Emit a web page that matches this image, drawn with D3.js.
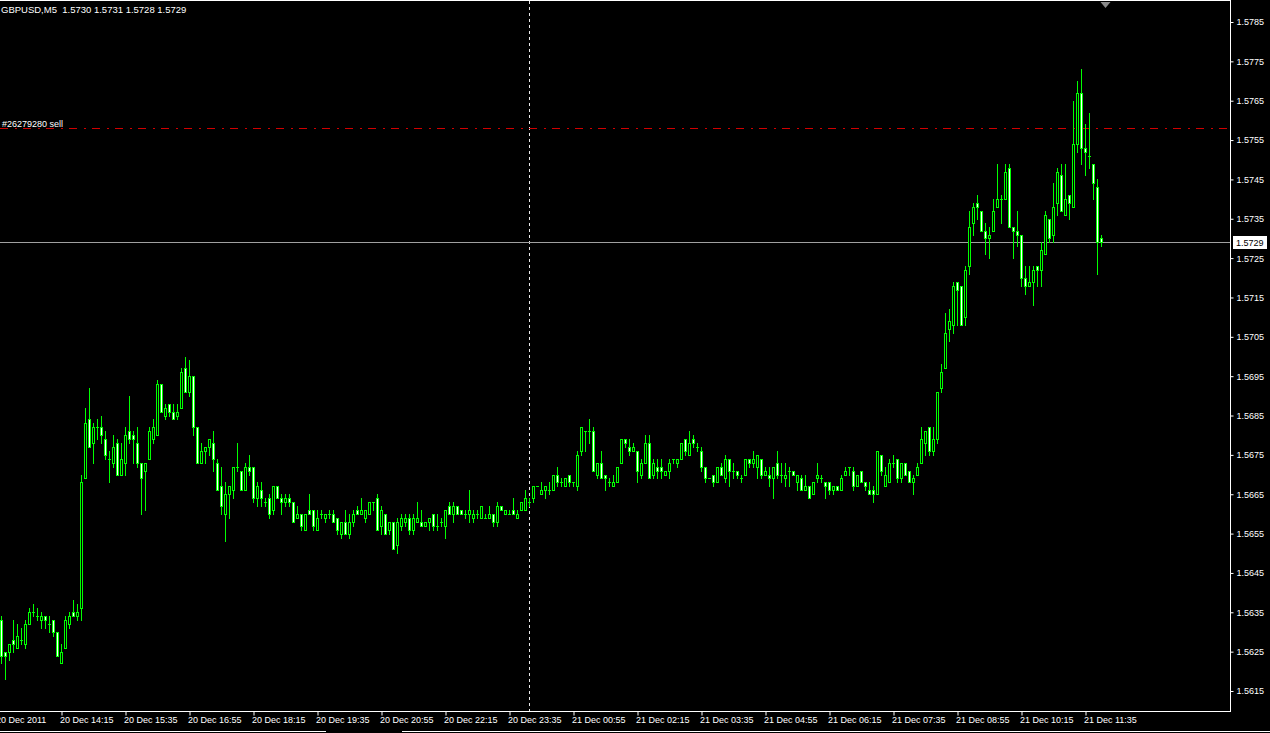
<!DOCTYPE html>
<html><head><meta charset="utf-8">
<script src="https://cdn.jsdelivr.net/npm/d3@7"></script>
<style>
html,body{margin:0;padding:0;background:#000;overflow:hidden}
svg{display:block}
</style></head><body>
<svg id="c" width="1270" height="733"></svg>
<script>
const symbolTitle = "GBPUSD,M5";
const opens = [
1.5633,1.5625,1.5625,1.5628,1.5626,1.5628,1.5627,1.5632,1.5635,1.5634,
1.5633,1.5634,1.5632,1.5633,1.5630,1.5622,1.5626,1.5632,1.5635,1.5634,
1.5636,1.5669,1.5684,1.5678,1.5682,1.5682,1.5679,1.5674,1.5673,1.5678,
1.5670,1.5673,1.5681,1.5680,1.5678,1.5673,1.5671,1.5674,1.5679,1.5680,
1.5693,1.5685,1.5688,1.5686,1.5685,1.5687,1.5697,1.5691,1.5695,1.5682,
1.5673,1.5676,1.5677,1.5678,1.5673,1.5667,1.5660,1.5665,1.5666,1.5672,
1.5671,1.5666,1.5672,1.5672,1.5664,1.5666,1.5663,1.5664,1.5661,1.5667,
1.5664,1.5663,1.5664,1.5663,1.5659,1.5660,1.5656,1.5661,1.5661,1.5656,
1.5660,1.5659,1.5660,1.5660,1.5659,1.5655,1.5658,1.5655,1.5658,1.5661,
1.5660,1.5659,1.5660,1.5663,1.5664,1.5657,1.5660,1.5656,1.5658,1.5652,
1.5657,1.5658,1.5659,1.5656,1.5658,1.5658,1.5657,1.5658,1.5660,1.5657,
1.5658,1.5657,1.5662,1.5660,1.5662,1.5661,1.5660,1.5660,1.5659,1.5660,
1.5659,1.5659,1.5659,1.5660,1.5658,1.5662,1.5660,1.5660,1.5661,1.5659,
1.5661,1.5661,1.5663,1.5664,1.5667,1.5665,1.5666,1.5666,1.5666,1.5670,
1.5668,1.5667,1.5670,1.5668,1.5667,1.5676,1.5681,1.5681,1.5681,1.5670,
1.5673,1.5670,1.5668,1.5667,1.5668,1.5673,1.5679,1.5677,1.5676,1.5676,
1.5670,1.5673,1.5678,1.5670,1.5672,1.5672,1.5670,1.5671,1.5674,1.5673,
1.5674,1.5679,1.5675,1.5679,1.5677,1.5676,1.5672,1.5669,1.5670,1.5668,
1.5672,1.5669,1.5674,1.5671,1.5671,1.5669,1.5670,1.5674,1.5673,1.5672,
1.5674,1.5670,1.5670,1.5669,1.5673,1.5670,1.5669,1.5671,1.5671,1.5668,
1.5669,1.5666,1.5667,1.5665,1.5669,1.5669,1.5668,1.5668,1.5666,1.5667,
1.5666,1.5670,1.5672,1.5671,1.5667,1.5671,1.5668,1.5666,1.5666,1.5665,
1.5675,1.5667,1.5668,1.5673,1.5674,1.5669,1.5673,1.5671,1.5668,1.5670,
1.5673,1.5678,1.5682,1.5676,1.5679,1.5692,1.5697,1.5707,1.5708,1.5719,
1.5718,1.5710,1.5723,1.5734,1.5739,1.5737,1.5732,1.5730,1.5732,1.5738,
1.5740,1.5740,1.5748,1.5733,1.5732,1.5731,1.5720,1.5718,1.5719,1.5723,
1.5722,1.5726,1.5735,1.5731,1.5739,1.5746,1.5736,1.5741,1.5738,1.5754,
1.5767,1.5753,1.5751,1.5749,1.5743,1.5730];
const highs = [
1.5634,1.5625,1.5627,1.5633,1.5632,1.5631,1.5633,1.5636,1.5637,1.5636,
1.5635,1.5634,1.5634,1.5633,1.5630,1.5627,1.5634,1.5635,1.5638,1.5637,
1.5670,1.5687,1.5692,1.5683,1.5684,1.5685,1.5681,1.5676,1.5680,1.5679,
1.5678,1.5682,1.5690,1.5681,1.5682,1.5673,1.5673,1.5682,1.5684,1.5694,
1.5693,1.5688,1.5688,1.5688,1.5688,1.5697,1.5700,1.5699,1.5695,1.5682,
1.5678,1.5677,1.5679,1.5681,1.5674,1.5672,1.5668,1.5667,1.5672,1.5678,
1.5671,1.5673,1.5675,1.5672,1.5668,1.5668,1.5664,1.5665,1.5667,1.5667,
1.5665,1.5665,1.5665,1.5663,1.5662,1.5660,1.5660,1.5665,1.5661,1.5661,
1.5661,1.5660,1.5661,1.5661,1.5659,1.5658,1.5661,1.5660,1.5661,1.5662,
1.5664,1.5661,1.5663,1.5663,1.5665,1.5662,1.5660,1.5658,1.5658,1.5659,
1.5660,1.5660,1.5660,1.5660,1.5663,1.5661,1.5658,1.5659,1.5660,1.5660,
1.5659,1.5661,1.5663,1.5663,1.5662,1.5661,1.5661,1.5666,1.5661,1.5661,
1.5662,1.5660,1.5662,1.5660,1.5663,1.5662,1.5661,1.5661,1.5664,1.5661,
1.5663,1.5666,1.5664,1.5667,1.5667,1.5668,1.5667,1.5668,1.5670,1.5672,
1.5669,1.5669,1.5670,1.5668,1.5676,1.5682,1.5681,1.5684,1.5682,1.5673,
1.5676,1.5670,1.5669,1.5670,1.5672,1.5679,1.5679,1.5679,1.5678,1.5676,
1.5674,1.5680,1.5680,1.5674,1.5674,1.5674,1.5671,1.5674,1.5674,1.5674,
1.5678,1.5679,1.5681,1.5680,1.5678,1.5677,1.5672,1.5669,1.5670,1.5672,
1.5673,1.5675,1.5674,1.5673,1.5671,1.5670,1.5674,1.5674,1.5676,1.5675,
1.5674,1.5672,1.5672,1.5672,1.5676,1.5673,1.5673,1.5672,1.5671,1.5670,
1.5670,1.5670,1.5667,1.5668,1.5673,1.5670,1.5668,1.5668,1.5667,1.5667,
1.5670,1.5672,1.5672,1.5672,1.5670,1.5671,1.5668,1.5668,1.5667,1.5676,
1.5675,1.5672,1.5674,1.5675,1.5674,1.5673,1.5673,1.5671,1.5670,1.5673,
1.5682,1.5681,1.5682,1.5682,1.5691,1.5698,1.5711,1.5712,1.5719,1.5719,
1.5718,1.5723,1.5737,1.5739,1.5741,1.5737,1.5734,1.5733,1.5740,1.5749,
1.5741,1.5749,1.5749,1.5733,1.5737,1.5731,1.5723,1.5723,1.5723,1.5723,
1.5729,1.5737,1.5735,1.5744,1.5748,1.5749,1.5749,1.5741,1.5765,1.5770,
1.5773,1.5759,1.5762,1.5749,1.5745,1.5731];
const lows = [
1.5622,1.5618,1.5623,1.5625,1.5626,1.5627,1.5626,1.5632,1.5634,1.5633,
1.5631,1.5631,1.5630,1.5629,1.5624,1.5622,1.5626,1.5631,1.5634,1.5633,
1.5633,1.5669,1.5677,1.5673,1.5679,1.5678,1.5674,1.5668,1.5672,1.5670,
1.5670,1.5670,1.5678,1.5673,1.5672,1.5660,1.5661,1.5674,1.5678,1.5680,
1.5686,1.5684,1.5685,1.5684,1.5684,1.5687,1.5691,1.5690,1.5680,1.5673,
1.5673,1.5673,1.5675,1.5671,1.5666,1.5660,1.5653,1.5659,1.5664,1.5671,
1.5666,1.5666,1.5670,1.5663,1.5662,1.5662,1.5662,1.5659,1.5660,1.5664,
1.5660,1.5662,1.5662,1.5658,1.5659,1.5656,1.5656,1.5660,1.5656,1.5656,
1.5659,1.5658,1.5659,1.5658,1.5655,1.5654,1.5655,1.5654,1.5657,1.5660,
1.5660,1.5658,1.5660,1.5661,1.5656,1.5655,1.5655,1.5655,1.5651,1.5650,
1.5656,1.5657,1.5655,1.5655,1.5658,1.5657,1.5657,1.5656,1.5656,1.5656,
1.5657,1.5654,1.5660,1.5658,1.5660,1.5660,1.5659,1.5658,1.5658,1.5659,
1.5659,1.5659,1.5659,1.5657,1.5657,1.5661,1.5660,1.5660,1.5660,1.5659,
1.5661,1.5661,1.5662,1.5663,1.5667,1.5665,1.5664,1.5665,1.5666,1.5667,
1.5667,1.5667,1.5667,1.5667,1.5666,1.5675,1.5676,1.5678,1.5671,1.5669,
1.5669,1.5666,1.5667,1.5667,1.5668,1.5673,1.5677,1.5675,1.5676,1.5668,
1.5669,1.5673,1.5669,1.5669,1.5669,1.5669,1.5670,1.5669,1.5673,1.5672,
1.5674,1.5675,1.5675,1.5677,1.5676,1.5671,1.5668,1.5669,1.5667,1.5668,
1.5670,1.5668,1.5667,1.5669,1.5669,1.5668,1.5670,1.5672,1.5672,1.5669,
1.5669,1.5670,1.5667,1.5664,1.5669,1.5668,1.5667,1.5667,1.5670,1.5666,
1.5666,1.5666,1.5664,1.5665,1.5668,1.5668,1.5664,1.5665,1.5665,1.5666,
1.5666,1.5670,1.5670,1.5666,1.5667,1.5668,1.5666,1.5665,1.5663,1.5665,
1.5670,1.5667,1.5668,1.5672,1.5668,1.5668,1.5670,1.5668,1.5665,1.5670,
1.5673,1.5675,1.5675,1.5675,1.5678,1.5691,1.5697,1.5704,1.5706,1.5708,
1.5708,1.5708,1.5721,1.5731,1.5735,1.5732,1.5726,1.5725,1.5732,1.5738,
1.5734,1.5740,1.5733,1.5725,1.5728,1.5718,1.5716,1.5718,1.5713,1.5718,
1.5718,1.5726,1.5729,1.5729,1.5736,1.5737,1.5736,1.5735,1.5738,1.5752,
1.5749,1.5746,1.5748,1.5740,1.5721,1.5728];
const closes = [
1.5624,1.5624,1.5627,1.5627,1.5629,1.5628,1.5632,1.5635,1.5635,1.5634,
1.5634,1.5633,1.5632,1.5630,1.5624,1.5625,1.5633,1.5634,1.5634,1.5635,
1.5668,1.5683,1.5677,1.5682,1.5682,1.5680,1.5675,1.5674,1.5677,1.5670,
1.5674,1.5680,1.5679,1.5679,1.5673,1.5669,1.5673,1.5681,1.5682,1.5693,
1.5686,1.5687,1.5686,1.5684,1.5686,1.5696,1.5691,1.5695,1.5682,1.5673,
1.5676,1.5677,1.5679,1.5674,1.5666,1.5662,1.5665,1.5667,1.5672,1.5672,
1.5666,1.5672,1.5671,1.5664,1.5667,1.5664,1.5663,1.5660,1.5667,1.5664,
1.5663,1.5664,1.5663,1.5658,1.5660,1.5657,1.5660,1.5660,1.5657,1.5659,
1.5660,1.5660,1.5660,1.5658,1.5656,1.5658,1.5655,1.5658,1.5660,1.5660,
1.5661,1.5661,1.5663,1.5663,1.5656,1.5661,1.5655,1.5658,1.5651,1.5658,
1.5659,1.5659,1.5656,1.5659,1.5659,1.5657,1.5658,1.5659,1.5657,1.5657,
1.5658,1.5661,1.5660,1.5662,1.5660,1.5660,1.5660,1.5661,1.5660,1.5660,
1.5662,1.5659,1.5660,1.5658,1.5662,1.5661,1.5661,1.5660,1.5660,1.5660,
1.5663,1.5664,1.5663,1.5667,1.5667,1.5666,1.5667,1.5666,1.5670,1.5668,
1.5668,1.5669,1.5668,1.5668,1.5675,1.5682,1.5681,1.5681,1.5671,1.5673,
1.5669,1.5669,1.5668,1.5668,1.5672,1.5679,1.5678,1.5676,1.5677,1.5671,
1.5673,1.5678,1.5669,1.5673,1.5671,1.5671,1.5671,1.5673,1.5674,1.5674,
1.5678,1.5676,1.5678,1.5678,1.5677,1.5672,1.5669,1.5669,1.5668,1.5672,
1.5670,1.5674,1.5671,1.5671,1.5670,1.5669,1.5674,1.5673,1.5674,1.5675,
1.5670,1.5671,1.5669,1.5672,1.5670,1.5670,1.5670,1.5671,1.5670,1.5670,
1.5666,1.5667,1.5664,1.5668,1.5670,1.5669,1.5667,1.5666,1.5667,1.5666,
1.5669,1.5671,1.5672,1.5667,1.5670,1.5668,1.5667,1.5665,1.5665,1.5676,
1.5671,1.5670,1.5673,1.5673,1.5669,1.5673,1.5670,1.5668,1.5669,1.5672,
1.5679,1.5681,1.5676,1.5679,1.5691,1.5696,1.5706,1.5709,1.5718,1.5717,
1.5708,1.5722,1.5733,1.5738,1.5738,1.5732,1.5730,1.5731,1.5737,1.5740,
1.5740,1.5747,1.5733,1.5732,1.5731,1.5720,1.5718,1.5719,1.5722,1.5722,
1.5727,1.5736,1.5730,1.5738,1.5747,1.5737,1.5740,1.5739,1.5754,1.5767,
1.5753,1.5752,1.5751,1.5744,1.5729,1.5729];

const priceTicks = [1.5785,1.5775,1.5765,1.5755,1.5745,1.5735,1.5725,1.5715,1.5705,1.5695,1.5685,1.5675,1.5665,1.5655,1.5645,1.5635,1.5625,1.5615];
const timeLabels = ["20 Dec 2011","20 Dec 14:15","20 Dec 15:35","20 Dec 16:55","20 Dec 18:15","20 Dec 19:35","20 Dec 20:55","20 Dec 22:15","20 Dec 23:35","21 Dec 00:55","21 Dec 02:15","21 Dec 03:35","21 Dec 04:55","21 Dec 06:15","21 Dec 07:35","21 Dec 08:55","21 Dec 10:15","21 Dec 11:35"];
const timeLabelBars = [-1,15,31,47,63,79,95,111,127,143,159,175,191,207,223,239,255,271];
const daySeparatorBar = 132;
const orderPrice = 1.5758;
const orderLabel = "#26279280 sell";
const lastOHLC = ["1.5730","1.5731","1.5728","1.5729"];
const bidPrice = 1.5729;

const FONT = '"Liberation Sans", Arial, sans-serif';
const W = 1270, H = 733;
const frameR = 1230, frameB = 711;
const n = opens.length;
const svg = d3.select("#c");
svg.append("rect").attr("width", W).attr("height", H).attr("fill", "#000");

const x = d3.scaleLinear().domain([0, n - 1]).range([1.5, 4 * (n - 1) + 1.5]);
const y = d3.scaleLinear().domain([1.5615, 1.5785]).range([691, 22]);
const row = p => Math.round(y(p));

// frame
const frame = svg.append("g").attr("stroke", "#fff").attr("shape-rendering", "crispEdges");
frame.append("line").attr("x1", 0).attr("x2", frameR).attr("y1", 0.5).attr("y2", 0.5);
frame.append("line").attr("x1", frameR + 0.5).attr("x2", frameR + 0.5).attr("y1", 0).attr("y2", frameB + 1);
frame.append("line").attr("x1", 0).attr("x2", frameR + 1).attr("y1", frameB + 0.5).attr("y2", frameB + 0.5);

// day separator
svg.append("line").attr("x1", x(daySeparatorBar)).attr("x2", x(daySeparatorBar))
  .attr("y1", 1).attr("y2", frameB).attr("stroke", "#e8e8e8").attr("stroke-dasharray", "3,3")
  .attr("shape-rendering", "crispEdges");

// order line
svg.append("line").attr("x1", 0).attr("x2", frameR).attr("y1", row(orderPrice) + 0.5).attr("y2", row(orderPrice) + 0.5)
  .attr("stroke", "#d00000").attr("stroke-dasharray", "8,7,2,6").attr("shape-rendering", "crispEdges");
svg.append("text").attr("x", 2).attr("y", row(orderPrice) - 1).text(orderLabel)
  .attr("fill", "#fff").attr("font-family", FONT).attr("font-size", 9);

// bid line
svg.append("line").attr("x1", 0).attr("x2", frameR).attr("y1", row(bidPrice) + 0.5).attr("y2", row(bidPrice) + 0.5)
  .attr("stroke", "#a0a0a0").attr("shape-rendering", "crispEdges");

// candles
const bars = d3.range(n).map(i => ({i, o: opens[i], h: highs[i], l: lows[i], c: closes[i]}));
const cg = svg.append("g").attr("shape-rendering", "crispEdges");
const g = cg.selectAll("g").data(bars).join("g");
g.append("line")
  .attr("x1", d => x(d.i)).attr("x2", d => x(d.i))
  .attr("y1", d => row(d.h)).attr("y2", d => row(d.l) + 1)
  .attr("stroke", "#00ff00");
g.each(function(d) {
  const sel = d3.select(this);
  const ro = row(d.o), rc = row(d.c);
  if (ro === rc) {
    sel.append("line").attr("x1", x(d.i) - 1.5).attr("x2", x(d.i) + 1.5)
      .attr("y1", ro + 0.5).attr("y2", ro + 0.5).attr("stroke", "#00ff00");
  } else {
    const top = Math.min(ro, rc), bot = Math.max(ro, rc);
    sel.append("rect").attr("x", x(d.i) - 1).attr("width", 2)
      .attr("y", top + 0.5).attr("height", bot - top)
      .attr("fill", d.c > d.o ? "#000" : "#fff").attr("stroke", "#00ff00");
  }
});

// right axis
const yAxis = d3.axisRight(y).tickValues(priceTicks).tickSize(3).tickPadding(3).tickFormat(d3.format(".4f"));
const gy = svg.append("g").attr("transform", `translate(${frameR + 0.5},0)`).call(yAxis);
gy.attr("font-family", FONT).attr("font-size", 9);
gy.select(".domain").remove();
gy.selectAll("line").attr("stroke", "#fff");
gy.selectAll("text").attr("fill", "#fff");

// bottom axis
const xAxis = d3.axisBottom(x).tickValues(timeLabelBars).tickSize(4)
  .tickFormat((d, i) => timeLabels[i]);
const gx = svg.append("g").attr("transform", `translate(0,${frameB + 0.5})`).call(xAxis);
gx.attr("font-family", FONT).attr("font-size", 9);
gx.select(".domain").remove();
gx.selectAll("line").attr("stroke", "#fff");
gx.selectAll("text").attr("fill", "#fff").attr("text-anchor", "start").attr("x", -2).attr("y", 5);

// bid label box
const by = row(bidPrice);
svg.append("rect").attr("x", 1233).attr("y", by - 6).attr("width", 34).attr("height", 13).attr("fill", "#fff");
svg.append("text").attr("x", 1236).attr("y", by + 4).text(bidPrice.toFixed(4))
  .attr("fill", "#000").attr("font-family", FONT).attr("font-size", 9);

// title
svg.append("text").attr("x", 1).attr("y", 13).attr("xml:space", "preserve")
  .text(symbolTitle + "  " + lastOHLC.join(" "))
  .attr("fill", "#fff").attr("font-family", FONT).attr("font-size", 9.5);

// chart shift marker
const sx = x(n - 1) + 4;
svg.append("path").attr("d", `M${sx - 5},2L${sx + 5},2L${sx},8Z`).attr("fill", "#8a8a8a");

// tab bar line at bottom
const tb = svg.append("g").attr("stroke", "#fff").attr("shape-rendering", "crispEdges");
tb.append("line").attr("x1", 0).attr("x2", 326).attr("y1", 731.5).attr("y2", 731.5);
tb.append("line").attr("x1", 402).attr("x2", W).attr("y1", 731.5).attr("y2", 731.5);
</script>
</body></html>
